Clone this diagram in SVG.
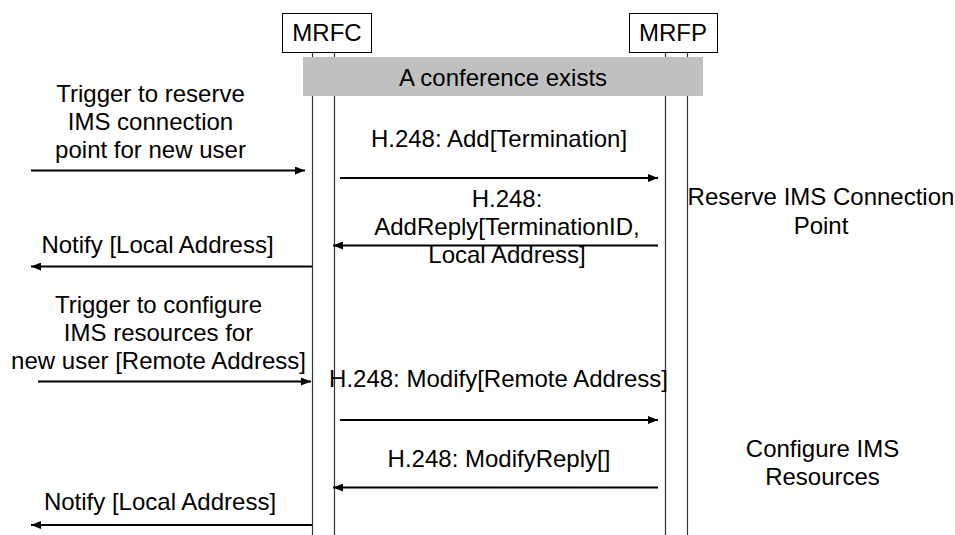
<svg xmlns="http://www.w3.org/2000/svg" width="955" height="535" viewBox="0 0 955 535">
<style>
text{font-family:"Liberation Sans",Arial,sans-serif;font-size:24px;fill:#000;text-anchor:middle}
.box{fill:#fff;stroke:#000;stroke-width:1}
.life{stroke:#333;stroke-width:1.2;fill:none}
.msg{stroke:#000;stroke-width:2;fill:none}
</style>
<defs>
<marker id="ah" viewBox="0 0 10 8" refX="10" refY="4" markerWidth="10" markerHeight="8" markerUnits="userSpaceOnUse" orient="auto">
<path d="M0,0 L10,4 L0,8 Z" fill="#000"/>
</marker>
</defs>
<g id="lifelines">
<line class="life" x1="312.5" y1="52" x2="312.5" y2="535" stroke="#777"/>
<line class="life" x1="334.5" y1="52" x2="334.5" y2="535"/>
<line class="life" x1="665.5" y1="52" x2="665.5" y2="535"/>
<line class="life" x1="687.5" y1="52" x2="687.5" y2="535" stroke="#777"/>
</g>
<g id="mrfc">
<rect class="box" x="282.5" y="13.5" width="89" height="39"/>
<text x="327" y="41">MRFC</text>
</g>
<g id="mrfp">
<rect class="box" x="629.5" y="13.5" width="88" height="39"/>
<text x="673" y="41">MRFP</text>
</g>
<g id="conference">
<rect x="303" y="57" width="400" height="39" fill="#c0c0c0"/>
<text x="503" y="86">A conference exists</text>
</g>
<g id="connectors">
<line class="msg" x1="31" y1="170.5" x2="305" y2="170.5" marker-end="url(#ah)"/>
<line class="msg" x1="340" y1="178" x2="658" y2="178" marker-end="url(#ah)"/>
<line class="msg" x1="658" y1="245.5" x2="333" y2="245.5" marker-end="url(#ah)"/>
<line class="msg" x1="312" y1="266.5" x2="31" y2="266.5" marker-end="url(#ah)"/>
<line class="msg" x1="38" y1="381.5" x2="311" y2="381.5" marker-end="url(#ah)"/>
<line class="msg" x1="340" y1="420" x2="658" y2="420" marker-end="url(#ah)"/>
<line class="msg" x1="658" y1="487.5" x2="333" y2="487.5" marker-end="url(#ah)"/>
<line class="msg" x1="312" y1="525" x2="31" y2="525" marker-end="url(#ah)"/>
</g>
<g id="labels">
<text x="150.5" y="102">Trigger to reserve</text>
<text x="150.5" y="130">IMS connection</text>
<text x="150.5" y="158">point for new user</text>
<text x="499" y="147">H.248: Add[Termination]</text>
<text x="507" y="207">H.248:</text>
<text x="507" y="235">AddReply[TerminationID,</text>
<text x="507" y="263">Local Address]</text>
<text x="157.5" y="253">Notify [Local Address]</text>
<text x="821" y="205">Reserve IMS Connection</text>
<text x="821" y="234">Point</text>
<text x="158.5" y="313">Trigger to configure</text>
<text x="158.5" y="341">IMS resources for</text>
<text x="158.5" y="369">new user [Remote Address]</text>
<text x="498.5" y="387">H.248: Modify[Remote Address]</text>
<text x="499" y="467">H.248: ModifyReply[]</text>
<text x="822.5" y="457">Configure IMS</text>
<text x="822.5" y="485">Resources</text>
<text x="160" y="510">Notify [Local Address]</text>
</g>
</svg>
